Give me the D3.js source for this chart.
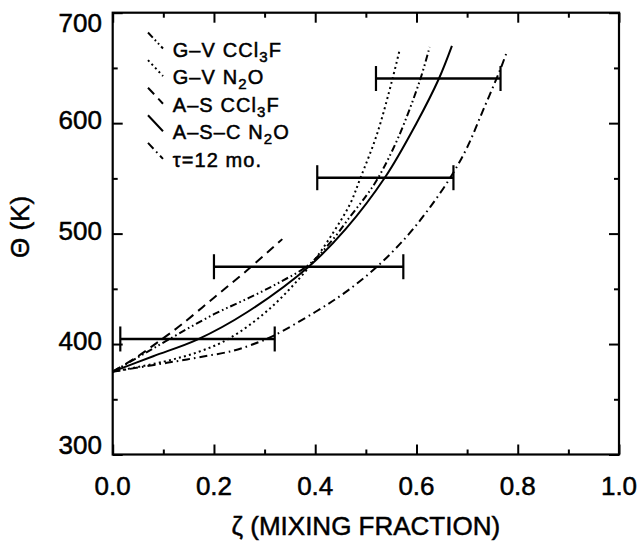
<!DOCTYPE html>
<meta charset="utf-8">
<body style="margin:0;background:#fff">
<script src="https://d3js.org/d3.v7.min.js"></script>
<script>
// axis ticks
var zetaMajor = [0, 0.2, 0.4, 0.6, 0.8, 1.0];
var zetaMinor = [0.1, 0.3, 0.5, 0.7, 0.9];
var thetaMajor = [300, 400, 500, 600, 700];
var thetaMinor = [350, 450, 550, 650];

// curves: [zeta, theta (K)]
var gvCCl3F = [[0,375],[0.05,388],[0.11,404],[0.2,427],[0.27,442],[0.33,456],[0.385,471],[0.43,492],[0.47,516],[0.502,535],[0.525,551],[0.565,588],[0.607,639],[0.626,669]];
var gvN2O = [[0,375],[0.1,384],[0.17,393],[0.23,405],[0.31,432],[0.39,471],[0.437,502],[0.469,527],[0.489,550],[0.522,590],[0.552,639],[0.566,665]];
var asCCl3F = [[0,375],[0.05,389],[0.09,402],[0.134,417],[0.2,442],[0.266,467],[0.335,495]];
var ascN2O = [[0,375],[0.08,389],[0.167,404],[0.266,429],[0.387,470],[0.46,504],[0.538,551],[0.6,600],[0.644,640],[0.67,670]];
var tau12 = [[0,375],[0.107,383],[0.17,388],[0.238,394],[0.29,402],[0.32,408],[0.40,429],[0.46,447],[0.522,470],[0.58,497],[0.627,524],[0.67,553],[0.70,578],[0.73,610],[0.765,648],[0.778,664]];

// horizontal error bars
var errTheta = [404.6, 470, 550.6, 640.4];
var errLo = [0.015, 0.2, 0.404, 0.52];
var errHi = [0.32, 0.574, 0.673, 0.766];

var series = [
  {name: "gv_ccl3f", pts: gvCCl3F, dash: "7,3,1.6,3,1.6,3"},
  {name: "gv_n2o", pts: gvN2O, dash: "2,3.2"},
  {name: "as_ccl3f", pts: asCCl3F, dash: "9,6"},
  {name: "asc_n2o", pts: ascN2O, dash: null},
  {name: "tau", pts: tau12, dash: "8,4,1.6,4"}
];

var width = 641, height = 543;
var mLeft = 112.7, mRight = 619, mTop = 12.7, mBottom = 454.5;

var x = d3.scaleLinear().domain([0, 1]).range([mLeft, mRight]);
var y = d3.scaleLinear().domain([300, 700]).range([mBottom, mTop]);

var svg = d3.select("body").append("svg")
    .attr("width", width)
    .attr("height", height)
    .style("font-family", "'Liberation Sans', Arial, sans-serif");

var plot = svg.append("g");

// inward ticks on all four sides
function tickAxis(axis, tr) {
  var g = plot.append("g").attr("transform", tr).call(axis);
  g.select(".domain").remove();
  g.selectAll("line").attr("stroke", "#000").attr("stroke-width", 2);
}
tickAxis(d3.axisBottom(x).tickValues(zetaMajor).tickSize(-10).tickFormat(""), "translate(0," + mBottom + ")");
tickAxis(d3.axisBottom(x).tickValues(zetaMinor).tickSize(-5).tickFormat(""), "translate(0," + mBottom + ")");
tickAxis(d3.axisTop(x).tickValues(zetaMajor).tickSize(-10).tickFormat(""), "translate(0," + mTop + ")");
tickAxis(d3.axisTop(x).tickValues(zetaMinor).tickSize(-5).tickFormat(""), "translate(0," + mTop + ")");
tickAxis(d3.axisLeft(y).tickValues(thetaMajor).tickSize(-10).tickFormat(""), "translate(" + mLeft + ",0)");
tickAxis(d3.axisLeft(y).tickValues(thetaMinor).tickSize(-5).tickFormat(""), "translate(" + mLeft + ",0)");
tickAxis(d3.axisRight(y).tickValues(thetaMajor).tickSize(-10).tickFormat(""), "translate(" + mRight + ",0)");
tickAxis(d3.axisRight(y).tickValues(thetaMinor).tickSize(-5).tickFormat(""), "translate(" + mRight + ",0)");

plot.append("rect")
    .attr("x", mLeft).attr("y", mTop)
    .attr("width", mRight - mLeft).attr("height", mBottom - mTop)
    .attr("fill", "none").attr("stroke", "#000").attr("stroke-width", 2.2);

// tick labels
svg.selectAll(".xlab").data(zetaMajor).enter().append("text")
    .attr("x", function(d) { return x(d); })
    .attr("y", 495)
    .attr("text-anchor", "middle")
    .attr("font-size", 26)
    .attr("stroke", "#000").attr("stroke-width", 0.5)
    .text(function(d) { return d3.format(".1f")(d); });

svg.selectAll(".ylab").data(thetaMajor).enter().append("text")
    .attr("x", 102)
    .attr("y", function(d) {
      if (d === 700) return y(d) + 19;
      if (d === 300) return y(d) - 1;
      return y(d) + 6;
    })
    .attr("text-anchor", "end")
    .attr("font-size", 26)
    .attr("stroke", "#000").attr("stroke-width", 0.5)
    .text(function(d) { return d; });

// axis titles
svg.append("text")
    .attr("x", (mLeft + mRight) / 2).attr("y", 535)
    .attr("text-anchor", "middle").attr("font-size", 26)
    .attr("stroke", "#000").attr("stroke-width", 0.5)
    .text("ζ (MIXING FRACTION)");

svg.append("text")
    .attr("transform", "translate(29,227)rotate(-90)")
    .attr("text-anchor", "middle").attr("font-size", 26)
    .attr("stroke", "#000").attr("stroke-width", 0.5)
    .text("Θ (K)");

// curves
var line = d3.line()
    .x(function(d) { return x(d[0]); })
    .y(function(d) { return y(d[1]); })
    .curve(d3.curveCatmullRom.alpha(0.5));

plot.selectAll(".curve").data(series).enter().append("path")
    .attr("d", function(d) { return line(d.pts); })
    .attr("fill", "none")
    .attr("stroke", "#000")
    .attr("stroke-width", 2)
    .attr("stroke-dasharray", function(d) { return d.dash; });

// error bars
var bars = plot.selectAll(".err").data(errTheta).enter().append("g");
bars.append("line")
    .attr("x1", function(d, i) { return x(errLo[i]); })
    .attr("x2", function(d, i) { return x(errHi[i]); })
    .attr("y1", function(d) { return y(d); })
    .attr("y2", function(d) { return y(d); })
    .attr("stroke", "#000").attr("stroke-width", 2.6);
bars.append("line")
    .attr("x1", function(d, i) { return x(errLo[i]); })
    .attr("x2", function(d, i) { return x(errLo[i]); })
    .attr("y1", function(d) { return y(d) - 12.5; })
    .attr("y2", function(d) { return y(d) + 12.5; })
    .attr("stroke", "#000").attr("stroke-width", 2.2);
bars.append("line")
    .attr("x1", function(d, i) { return x(errHi[i]); })
    .attr("x2", function(d, i) { return x(errHi[i]); })
    .attr("y1", function(d) { return y(d) - 12.5; })
    .attr("y2", function(d) { return y(d) + 12.5; })
    .attr("stroke", "#000").attr("stroke-width", 2.2);

// legend
var legendRows = [
  [["G–V CCl", 0], ["3", 1], ["F", 0]],
  [["G–V N", 0], ["2", 1], ["O", 0]],
  [["A–S CCl", 0], ["3", 1], ["F", 0]],
  [["A–S–C N", 0], ["2", 1], ["O", 0]],
  [["τ=12 mo.", 0]]
];

var leg = svg.append("g").selectAll("g").data(series).enter().append("g")
    .attr("transform", function(d, i) { return "translate(0," + (56.5 + 27.6 * i) + ")"; });

leg.append("line")
    .attr("x1", 148).attr("y1", -24)
    .attr("x2", 163).attr("y2", -8)
    .attr("stroke", "#000").attr("stroke-width", 2)
    .attr("stroke-dasharray", function(d) { return d.dash; });

leg.append("text")
    .attr("x", 172.7).attr("y", 0)
    .attr("font-size", 20)
    .attr("letter-spacing", 1.1)
    .attr("stroke", "#000").attr("stroke-width", 0.5)
    .each(function(d, i) {
      var t = d3.select(this);
      var shift = 0;
      legendRows[i].forEach(function(p) {
        var dy = p[1] ? 5 : (shift ? -5 : 0);
        shift = p[1];
        t.append("tspan")
          .attr("dy", dy)
          .attr("font-size", p[1] ? 15 : 20)
          .text(p[0]);
      });
    });
</script>
</body>
</html>
